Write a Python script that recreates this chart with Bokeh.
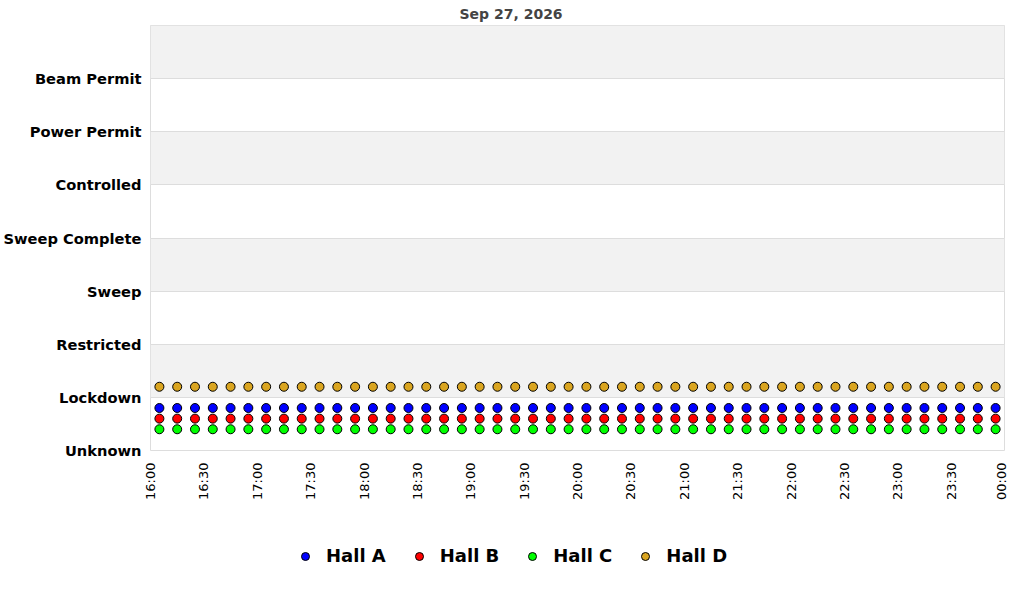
import math
import datetime as dt
from bokeh.plotting import figure
from bokeh.layouts import column
from bokeh.models import (FixedTicker, DatetimeTickFormatter, Legend, LegendItem,
                          Range1d, ColumnDataSource, Title)
from bokeh.embed import file_html
from bokeh.resources import INLINE

# ---- data ----
chart_date = "Sep 27, 2026"
states = ["Unknown", "Lockdown", "Restricted", "Sweep", "Sweep Complete",
          "Controlled", "Power Permit", "Beam Permit"]
times = ["16:05", "16:15", "16:25", "16:35", "16:45", "16:55",
         "17:05", "17:15", "17:25", "17:35", "17:45", "17:55",
         "18:05", "18:15", "18:25", "18:35", "18:45", "18:55",
         "19:05", "19:15", "19:25", "19:35", "19:45", "19:55",
         "20:05", "20:15", "20:25", "20:35", "20:45", "20:55",
         "21:05", "21:15", "21:25", "21:35", "21:45", "21:55",
         "22:05", "22:15", "22:25", "22:35", "22:45", "22:55",
         "23:05", "23:15", "23:25", "23:35", "23:45", "23:55"]
L = "Lockdown"
hall_a = [L, L, L, L, L, L, L, L, L, L, L, L, L, L, L, L, L, L, L, L, L, L, L, L,
          L, L, L, L, L, L, L, L, L, L, L, L, L, L, L, L, L, L, L, L, L, L, L, L]
hall_b = [L, L, L, L, L, L, L, L, L, L, L, L, L, L, L, L, L, L, L, L, L, L, L, L,
          L, L, L, L, L, L, L, L, L, L, L, L, L, L, L, L, L, L, L, L, L, L, L, L]
hall_c = [L, L, L, L, L, L, L, L, L, L, L, L, L, L, L, L, L, L, L, L, L, L, L, L,
          L, L, L, L, L, L, L, L, L, L, L, L, L, L, L, L, L, L, L, L, L, L, L, L]
hall_d = [L, L, L, L, L, L, L, L, L, L, L, L, L, L, L, L, L, L, L, L, L, L, L, L,
          L, L, L, L, L, L, L, L, L, L, L, L, L, L, L, L, L, L, L, L, L, L, L, L]
hall_names = ["Hall A", "Hall B", "Hall C", "Hall D"]
x_tick_labels = ["16:00", "16:30", "17:00", "17:30", "18:00", "18:30", "19:00",
                 "19:30", "20:00", "20:30", "21:00", "21:30", "22:00", "22:30",
                 "23:00", "23:30", "00:00"]

# ---- display settings ----
hall_colors = ["#0000ff", "#ff0000", "#00ff00", "#daa520"]
hall_offsets = [-0.2, -0.4, -0.6, 0.2]

day = dt.datetime(2026, 9, 27)


def to_dt(hhmm, base=day):
    h, m = map(int, hhmm.split(":"))
    return base + dt.timedelta(hours=h, minutes=m)


def to_ms(d):
    return (d - dt.datetime(1970, 1, 1)).total_seconds() * 1000.0


xs = [to_dt(t) for t in times]
tick_dts = []
for i, t in enumerate(x_tick_labels):
    d = to_dt(t)
    if i > 0 and d <= tick_dts[-1]:
        d += dt.timedelta(days=1)
    tick_dts.append(d)
tick_ms = [to_ms(d) for d in tick_dts]

p = figure(width=1008, height=522, x_axis_type="datetime",
           output_backend="svg", toolbar_location=None,
           min_border_left=10, min_border_right=4, min_border_top=0,
           min_border_bottom=72)
p.x_range = Range1d(tick_dts[0], tick_dts[-1])
p.y_range = Range1d(0, len(states))

p.title = Title(text=chart_date, align="left", offset=309, standoff=7,
                text_font="DejaVu Sans", text_font_size="14px",
                text_font_style="bold", text_color="#444444")

for name, vals, col, off in zip(hall_names, [hall_a, hall_b, hall_c, hall_d],
                                hall_colors, hall_offsets):
    ys = [states.index(v) + off for v in vals]
    src = ColumnDataSource(dict(x=xs, y=ys))
    p.scatter("x", "y", source=src, size=9, fill_color=col,
              line_color="black", line_width=1)

# y axis
p.yaxis.ticker = FixedTicker(ticks=list(range(len(states) + 1)))
p.yaxis.major_label_overrides = {i: s for i, s in enumerate(states)} | {len(states): ""}
p.yaxis.major_label_text_font = "DejaVu Sans"
p.yaxis.major_label_text_font_size = "11pt"
p.yaxis.major_label_text_font_style = "bold"
p.yaxis.major_label_text_color = "black"
p.yaxis.major_tick_out = 0
p.yaxis.major_tick_in = 0
p.yaxis.minor_tick_out = 0
p.yaxis.minor_tick_in = 0
p.yaxis.axis_line_color = None
p.yaxis.major_label_standoff = 9

# x axis
p.xaxis.ticker = FixedTicker(ticks=tick_ms)
p.xaxis.formatter = DatetimeTickFormatter(hours="%H:%M", minutes="%H:%M",
                                          hourmin="%H:%M", days="%H:%M",
                                          context=None)
p.xaxis.major_label_orientation = math.pi / 2
p.xaxis.major_label_text_font = "DejaVu Sans"
p.xaxis.major_label_text_font_size = "13px"
p.xaxis.major_label_text_color = "black"
p.xaxis.major_tick_out = 0
p.xaxis.major_tick_in = 0
p.xaxis.minor_tick_out = 0
p.xaxis.minor_tick_in = 0
p.xaxis.axis_line_color = None
p.xaxis.major_label_standoff = 12

# grids
p.xgrid.grid_line_color = None
p.ygrid.grid_line_color = "#dddddd"
p.ygrid.band_fill_color = "#f2f2f2"
p.ygrid.band_fill_alpha = 1.0
p.outline_line_color = "#dddddd"
p.background_fill_color = "white"

# ---- legend strip below the chart ----
lg = figure(width=1008, height=62, output_backend="svg", toolbar_location=None,
            x_axis_location=None, y_axis_location=None,
            min_border=0, x_range=(0, 1), y_range=(0, 1))
lg.outline_line_color = None
lg.grid.visible = False
items = []
for name, col in zip(hall_names, hall_colors):
    r = lg.scatter(x=[float("nan")], y=[float("nan")], size=10, fill_color=col,
                   line_color="black", line_width=1)
    items.append(LegendItem(label=name, renderers=[r]))

legend = Legend(items=items, orientation="horizontal", location=(145, 18),
                label_text_font="DejaVu Sans", label_text_font_size="18px",
                label_text_font_style="bold", label_text_color="black",
                glyph_width=20, glyph_height=20,
                label_standoff=11, spacing=23, border_line_color=None,
                background_fill_alpha=0, margin=0, padding=5)
lg.add_layout(legend, "center")

layout = column(p, lg, spacing=0)
open("out.html", "w").write(file_html(layout, INLINE))
